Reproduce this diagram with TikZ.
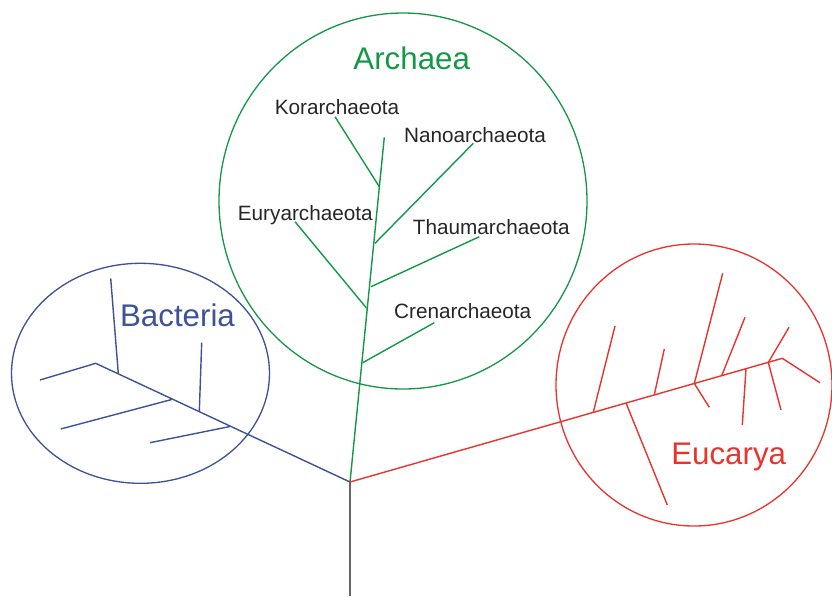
\documentclass[tikz,border=0pt]{standalone}
\usepackage{fontspec}
\setmainfont{Liberation Sans}
\begin{document}
\begin{tikzpicture}[
  x=0.02cm, y=-0.02cm,
  domlabel/.style={font=\fontsize{17.8}{20}\selectfont, inner sep=0pt},
  phylum/.style={font=\fontsize{11.8}{14}\selectfont, inner sep=0pt, black!85},
  arc/.style={line width=0.75pt},
  twig/.style={line width=0.8pt},
]
\definecolor{archgreen}{RGB}{20,152,72}
\definecolor{bactblue}{RGB}{62,82,152}
\definecolor{eucred}{RGB}{232,52,46}
\useasboundingbox (0,0) rectangle (832,596);

% ---------------- root ----------------
\coordinate (root) at (350,482);
\coordinate (base) at (350,596);
\draw[line width=1.1pt, black!60] (root) -- (base);

% ---------------- Archaea ----------------
\draw[arc, archgreen] (403,201) ellipse [x radius=184, y radius=188];
\node[domlabel, text=archgreen] (archaea) at (411.7,58.3) {Archaea};

\coordinate (atop) at (384.3,137.3);
\coordinate (akor) at (379.3,186.7);
\coordinate (anan) at (375.0,243.3);
\coordinate (atha) at (371.0,286.7);
\coordinate (aeur) at (366.7,308.3);
\coordinate (acre) at (362.7,362.7);

\node[phylum] (kor) at (337.0,106.7) {Korarchaeota};
\node[phylum] (nan) at (475.0,135.0) {Nanoarchaeota};
\node[phylum] (eur) at (305.3,215.0) {Euryarchaeota};
\node[phylum] (tha) at (491.3,226.7) {Thaumarchaeota};
\node[phylum] (cre) at (462.7,310.7) {Crenarchaeota};

\draw[twig, archgreen] (root) -- (atop);
\draw[twig, archgreen] (akor) -- (335.0,116.7);
\draw[twig, archgreen] (anan) -- (473.3,143.3);
\draw[twig, archgreen] (atha) -- (479.3,236.7);
\draw[twig, archgreen] (aeur) -- (295.0,221.7);
\draw[twig, archgreen] (acre) -- (434.3,322.7);

% ---------------- Bacteria ----------------
\draw[arc, bactblue] (140.5,373.3) ellipse [x radius=129, y radius=110];
\node[domlabel, text=bactblue] (bacteria) at (177.5,315) {Bacteria};

\coordinate (btip) at (95.7,363.3);
\coordinate (b1) at (118.3,373.6);
\coordinate (b2) at (171.7,399.5);
\coordinate (b3) at (199.3,411.7);
\coordinate (b4) at (230.0,426.5);

\draw[twig, bactblue] (root) -- (btip) -- (40,380);
\draw[twig, bactblue] (b1) -- (110.7,278.3);
\draw[twig, bactblue] (b2) -- (60.7,429);
\draw[twig, bactblue] (b3) -- (201.7,342.7);
\draw[twig, bactblue] (b4) -- (150,442.7);

% ---------------- Eucarya ----------------
\draw[arc, eucred] (694,385) ellipse [x radius=138, y radius=141];
\node[domlabel, text=eucred] (eucarya) at (728.7,456.7) {Eucarya};

\coordinate (etip) at (782.3,358.3);
\coordinate (e1) at (593.3,412.2);
\coordinate (e2) at (626.0,403.0);
\coordinate (e3) at (654.3,394.9);
\coordinate (e4) at (694.3,383.5);
\coordinate (e5) at (721.7,375.7);
\coordinate (e6) at (746.0,368.7);
\coordinate (e7) at (768.3,362.4);

\draw[twig, eucred] (root) -- (etip) -- (820,382.7);
\draw[twig, eucred] (e1) -- (615,326);
\draw[twig, eucred] (e2) -- (667.3,505);
\draw[twig, eucred] (e3) -- (664.3,349);
\draw[twig, eucred] (e4) -- (722.7,273.3);
\draw[twig, eucred] (e4) -- (709.3,407.3);
\draw[twig, eucred] (e5) -- (745,317.3);
\draw[twig, eucred] (e6) -- (742.3,425);
\draw[twig, eucred] (e7) -- (789,327.3);
\draw[twig, eucred] (e7) -- (781,410);

\end{tikzpicture}
\end{document}
